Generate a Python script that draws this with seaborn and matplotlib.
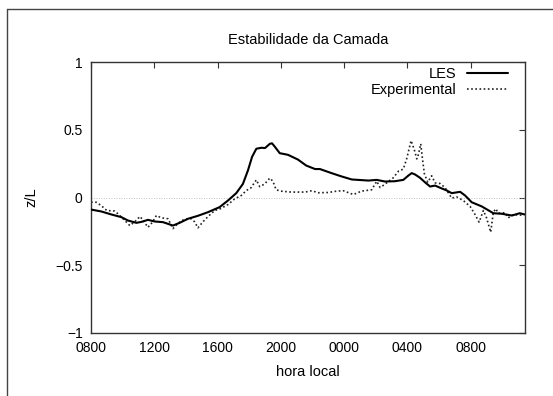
import matplotlib
matplotlib.use("Agg")
import matplotlib.pyplot as plt
from matplotlib.lines import Line2D
import seaborn as sns
import pandas as pd

# ---- data (hours since 00:00 of day 1; z/L) ----
les_hours = [8.0, 8.65, 9.28, 9.92, 10.34, 10.87, 11.18, 11.6, 12.03, 12.55, 13.18,
             13.6, 14.13, 14.76, 15.4, 16.13, 16.66, 17.18, 17.6, 17.92, 18.18,
             18.45, 18.77, 19.0, 19.3, 19.44, 19.61, 19.93, 20.45, 21.08, 21.6,
             22.16, 22.47, 23.2, 23.85, 24.48, 25.53, 26.06, 26.58, 27.2, 27.74,
             28.06, 28.27, 28.48, 28.8, 29.1, 29.43, 29.75, 30.06, 30.48, 30.8,
             31.33, 31.64, 32.06, 32.7, 33.43, 33.96, 34.6, 35.1, 35.4]
les_zl = [-0.089, -0.103, -0.125, -0.145, -0.17, -0.187, -0.18, -0.165, -0.177, -0.182, -0.207,
          -0.187, -0.157, -0.135, -0.108, -0.071, -0.022, 0.032, 0.10, 0.20, 0.30,
          0.36, 0.367, 0.365, 0.396, 0.40, 0.376, 0.327, 0.315, 0.28, 0.236,
          0.21, 0.21, 0.18, 0.155, 0.133, 0.125, 0.13, 0.118, 0.12, 0.13,
          0.162, 0.18, 0.17, 0.145, 0.113, 0.081, 0.088, 0.072, 0.052, 0.032,
          0.042, 0.015, -0.035, -0.066, -0.116, -0.12, -0.133, -0.116, -0.125]

exp_hours = [8.0, 8.33, 8.65, 9.0, 9.5, 9.7, 10.1, 10.45, 10.76, 11.1, 11.3, 11.6,
             11.9, 12.13, 12.45, 12.87, 13.18, 13.5, 13.9, 14.34, 14.55, 14.76,
             15.07, 15.4, 15.82, 16.2, 16.66, 17.08, 17.5, 17.82, 18.1, 18.45,
             18.66, 18.98, 19.3, 19.5, 19.7, 20.0, 20.65, 21.3, 21.53, 21.95,
             22.37, 23.0, 23.53, 23.95, 24.58, 25.1, 25.74, 26.06, 26.27, 26.48,
             26.69, 27.1, 27.43, 27.74, 27.95, 28.23, 28.44, 28.59, 28.7, 28.84,
             28.95, 29.07, 29.28, 29.53, 29.75, 30.06, 30.37, 30.8, 31.1, 31.53,
             31.96, 32.27, 32.53, 32.8, 33.0, 33.26, 33.43, 33.58, 33.75, 34.16,
             34.37, 34.7, 35.0, 35.3]
exp_zl = [-0.035, -0.035, -0.06, -0.096, -0.1, -0.12, -0.165, -0.207, -0.18, -0.14, -0.17, -0.22,
          -0.18, -0.133, -0.15, -0.157, -0.23, -0.19, -0.16, -0.157, -0.18, -0.224,
          -0.18, -0.14, -0.096, -0.082, -0.052, -0.01, 0.015, 0.052, 0.07, 0.13,
          0.08, 0.10, 0.143, 0.12, 0.057, 0.047, 0.04, 0.04, 0.04, 0.05,
          0.035, 0.037, 0.047, 0.05, 0.022, 0.047, 0.057, 0.12, 0.074, 0.09,
          0.108, 0.145, 0.194, 0.21, 0.285, 0.42, 0.35, 0.285, 0.32, 0.396,
          0.285, 0.175, 0.113, 0.16, 0.108, 0.103, 0.074, -0.005, 0.005, -0.022,
          -0.066, -0.125, -0.182, -0.096, -0.15, -0.256, -0.11, -0.083, -0.116, -0.112,
          -0.15, -0.125, -0.13, -0.13]

x_ticks = [8, 12, 16, 20, 24, 28, 32]
x_tick_labels = ["0800", "1200", "1600", "2000", "0000", "0400", "0800"]
y_ticks = [-1, -0.5, 0, 0.5, 1]
y_tick_labels = ["\u22121", "\u22120.5", "0", "0.5", "1"]

title = "Estabilidade da Camada"
xlabel = "hora local"
ylabel = "z/L"

# ---- style ----
sns.set_theme(style="white")
plt.rcParams["font.family"] = ["Liberation Sans", "DejaVu Sans"]
plt.rcParams["font.size"] = 10

fig = plt.figure(figsize=(5.53, 3.96), dpi=100)
ax = fig.add_axes([91 / 553, 1 - 333 / 396, (525 - 91) / 553, (333 - 62) / 396])

les_df = pd.DataFrame({"hora": les_hours, "zl": les_zl})
exp_df = pd.DataFrame({"hora": exp_hours, "zl": exp_zl})

ax.axhline(0, color="#b0b0b0", lw=0.6, ls=(0, (1, 2)), zorder=1)
sns.lineplot(data=les_df, x="hora", y="zl", ax=ax, color="black", lw=1.5,
             estimator=None, sort=False, label="LES", zorder=3)
sns.lineplot(data=exp_df, x="hora", y="zl", ax=ax, color="#222222", lw=1.2,
             ls=(0, (1, 1.5)), estimator=None, sort=False, label="Experimental", zorder=2)

ax.set_xlim(8, 35.43)
ax.set_ylim(-1, 1)
ax.set_xticks(x_ticks)
ax.set_xticklabels(x_tick_labels)
ax.set_yticks(y_ticks)
ax.set_yticklabels(y_tick_labels)
ax.tick_params(direction="in", length=4, width=0.8, colors="#333333",
               top=True, right=True, labelcolor="black", labelsize=10)
ax.tick_params(axis="x", pad=6)
ax.tick_params(axis="y", pad=6)

for s in ax.spines.values():
    s.set_color("#333333")
    s.set_linewidth(1.0)

ax.set_title(title, fontsize=10.5, color="black", pad=13)
ax.set_xlabel(xlabel, fontsize=10.5, color="black", labelpad=7)
ax.set_ylabel(ylabel, fontsize=10.5, color="black", labelpad=12)

leg = ax.legend(loc="upper right", bbox_to_anchor=(0.961, 0.982), frameon=False,
                markerfirst=False, handlelength=2.8, handletextpad=0.75,
                labelspacing=0.15, borderpad=0, borderaxespad=0, fontsize=10.5)
for t in leg.get_texts():
    t.set_color("black")

# outer partial frame (left and top edges)
fig.add_artist(Line2D([7 / 553, 7 / 553], [0, 1 - 9 / 396], transform=fig.transFigure,
                      color="#444444", lw=1.0))
fig.add_artist(Line2D([7 / 553, 1], [1 - 9 / 396, 1 - 9 / 396], transform=fig.transFigure,
                      color="#444444", lw=1.0))

fig.savefig("out.png", dpi=100)
